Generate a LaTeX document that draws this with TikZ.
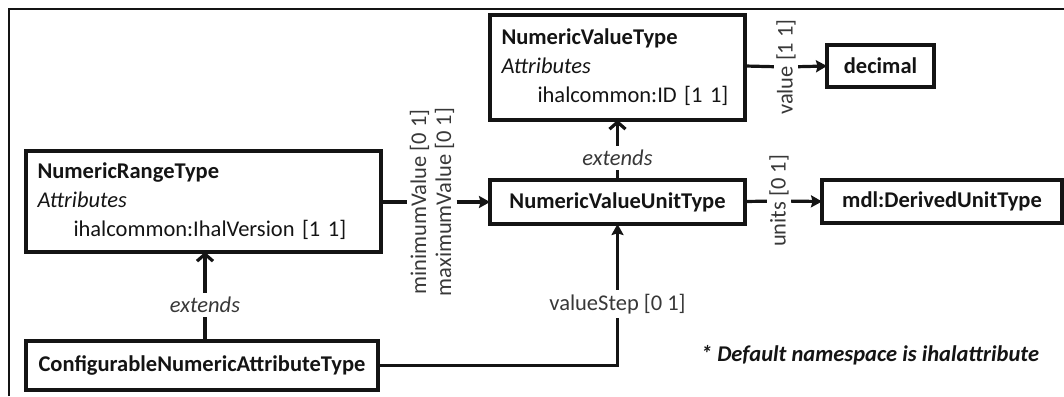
\documentclass[tikz,border=0pt]{standalone}
\usepackage{fontspec}
\setmainfont{Carlito}
\usetikzlibrary{arrows.meta}
\definecolor{ink}{gray}{0.08}
\definecolor{lbl}{gray}{0.22}
\begin{document}
\begin{tikzpicture}[x=0.5pt,y=-0.5pt,
  base/.style={font=\fontsize{11.25}{14.5}\selectfont},
  cls/.style={base, draw=ink, line width=1.8pt, inner xsep=5.5pt, inner ysep=0pt,
    outer sep=0pt, align=left, text=ink},
  single/.style={cls, align=center, font=\fontsize{11.25}{14.5}\selectfont\bfseries},
  rolelbl/.style={base, text=lbl, rotate=90, inner xsep=0pt, inner ysep=1pt,
    align=center, font=\fontsize{11.25}{12.5}\selectfont},
  extlbl/.style={base, text=lbl, inner xsep=0pt, inner ysep=2pt,
    font=\fontsize{11.25}{14.5}\selectfont\itshape},
  conn/.style={draw=ink, line width=1.6pt},
  assoc/.style={conn, -{Stealth[length=5.5pt,width=6pt,inset=0.8pt]}},
  extarrow/.style={conn, -{Straight Barb[length=3.5pt,width=8pt]}}
]
\useasboundingbox (0,0) rectangle (1064,396);

% outer frame (top and left edges)
\draw[line width=1pt, ink] (9,396) -- (9,9) -- (1064,9);

% classes
\node[cls, minimum width=177.5pt, minimum height=50.5pt, text width=166pt] (range) at (203.5,201.5)
  {\textbf{NumericRangeType}\\\textit{Attributes}\\\hspace*{18pt}ihalcommon:IhalVersion [1 1]};
\node[cls, minimum width=127.5pt, minimum height=52.5pt, text width=116pt] (value) at (617.5,67.5)
  {\textbf{NumericValueType}\\\textit{Attributes}\\\hspace*{18pt}ihalcommon:ID [1 1]};
\node[single, minimum width=53.5pt, minimum height=21pt] (decimal) at (880.5,66) {decimal};
\node[single, minimum width=127.5pt, minimum height=22pt] (unit) at (617.5,202) {NumericValueUnitType};
\node[single, minimum width=120pt, minimum height=21.5pt] (derived) at (942,201.5) {mdl:DerivedUnitType};
\node[single, minimum width=176pt, minimum height=24.5pt] (config) at (202,365.5) {ConfigurableNumericAttributeType};

% connector labels
\node[rolelbl] (minmax) at (432,202) {minimumValue [0 1]\\maximumValue [0 1]};
\node[rolelbl] (vlab) at (786,67) {value [1 1]};
\node[rolelbl] (ulab) at (779,201) {units [0 1]};
\node[extlbl] (ext1) at (617.5,158) {extends};
\node[extlbl] (ext2) at (205,305) {extends};
\node[base, text=lbl, inner sep=2pt] (vstep) at (617.5,304) {valueStep [0 1]};

% associations
\draw[conn] (range.east |- unit.west) -- (minmax);
\draw[assoc] (minmax) -- (unit.west);
\draw[conn] (value.east |- decimal.west) -- (vlab);
\draw[assoc] (vlab) -- (decimal.west);
\draw[conn] (unit.east |- derived.west) -- (ulab);
\draw[assoc] (ulab) -- (derived.west);
\draw[conn] (config.east) -| (vstep.south);
\draw[assoc] (vstep.north) -- (unit.south);

% extensions
\draw[conn] (unit.north) -- (ext1.south);
\draw[extarrow] (ext1.north) -- (value.south);
\draw[conn] (config.north -| ext2) -- (ext2.south);
\draw[extarrow] (ext2.north) -- (ext2 |- range.south);

% note
\node[base, text=ink, inner sep=0pt, font=\fontsize{11.25}{14.5}\selectfont\bfseries\itshape]
  (note) at (870,355) {* Default namespace is ihalattribute};
\end{tikzpicture}
\end{document}
